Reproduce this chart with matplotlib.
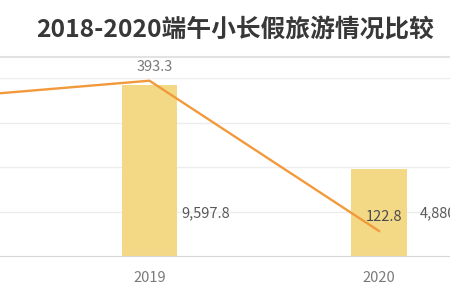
import matplotlib
matplotlib.use('Agg')
import matplotlib.pyplot as plt
from matplotlib.lines import Line2D

plt.rcParams['font.family'] = ['Noto Sans CJK SC', 'DejaVu Sans']

# 端午小长假数据（2018 在原图左侧被裁掉）
years = ['2018', '2019', '2020']
tourists = [9059.0, 9597.8, 4880.9]     # 旅游人次（万）- 柱
revenue = [358.6, 393.3, 122.8]         # 旅游收入（亿元）- 折线
title = '2018-2020端午小长假旅游情况比较'

bar_color = '#F3D985'
line_color = '#F29A3B'

fig = plt.figure(figsize=(4.5, 3), dpi=100)

# the plot is wider than the picture: 2018 falls off the left edge
ax = fig.add_axes([-0.4328, 0.14667, 1.53, 0.5923])
x = list(range(len(years)))
ax.bar(x, tourists, width=0.241, color=bar_color, zorder=2)
ax.set_xlim(-0.5, 2.5)
ax.set_ylim(0, 10000)
ax.set_yticks([2500, 5000, 7500, 10000])
ax.yaxis.grid(True, color='#EDEDED', lw=1)
ax.set_axisbelow(True)
for s in ['top', 'right', 'left']:
    ax.spines[s].set_visible(False)
ax.spines['bottom'].set_color('#D6D6D6')
ax.tick_params(axis='y', left=False, labelleft=False)
ax.tick_params(axis='x', length=0, pad=10.5, labelsize=10.5, labelcolor='#7A7A7A')
# only the visible years get a tick label
ax.set_xticks(x[1:])
ax.set_xticklabels(years[1:])

# bar labels sit to the right of the bars
label_dx = [0.141, 0.141, 0.176]
for i, v in enumerate(tourists):
    if i == 0:
        continue
    ax.text(i + label_dx[i], 2420, f'{v:,.1f}', ha='left', va='center',
            fontsize=10.5, color='#595959')

ax2 = ax.twinx()
ax2.plot(x, revenue, color=line_color, lw=1.7, zorder=3)
ax2.set_ylim(77.8, 397.6)
ax2.axis('off')
label_colors = ['#7A7A7A', '#7A7A7A', '#4A4A4A']
for i, v in enumerate(revenue):
    if i == 0:
        continue
    ax2.annotate(f'{v}', (x[i], v), xytext=(3.5, 10), textcoords='offset points',
                 ha='center', va='center', fontsize=10.5, color=label_colors[i])

fig.text(235 / 450, 1 - 30 / 300, title, ha='center', va='center',
         fontsize=17.8, fontweight='bold', color='#383838')
fig.add_artist(Line2D([0, 1], [1 - 56.7 / 300] * 2, transform=fig.transFigure,
                      color='#E2E2E2', lw=1.5))

fig.savefig('out.png', dpi=100)
